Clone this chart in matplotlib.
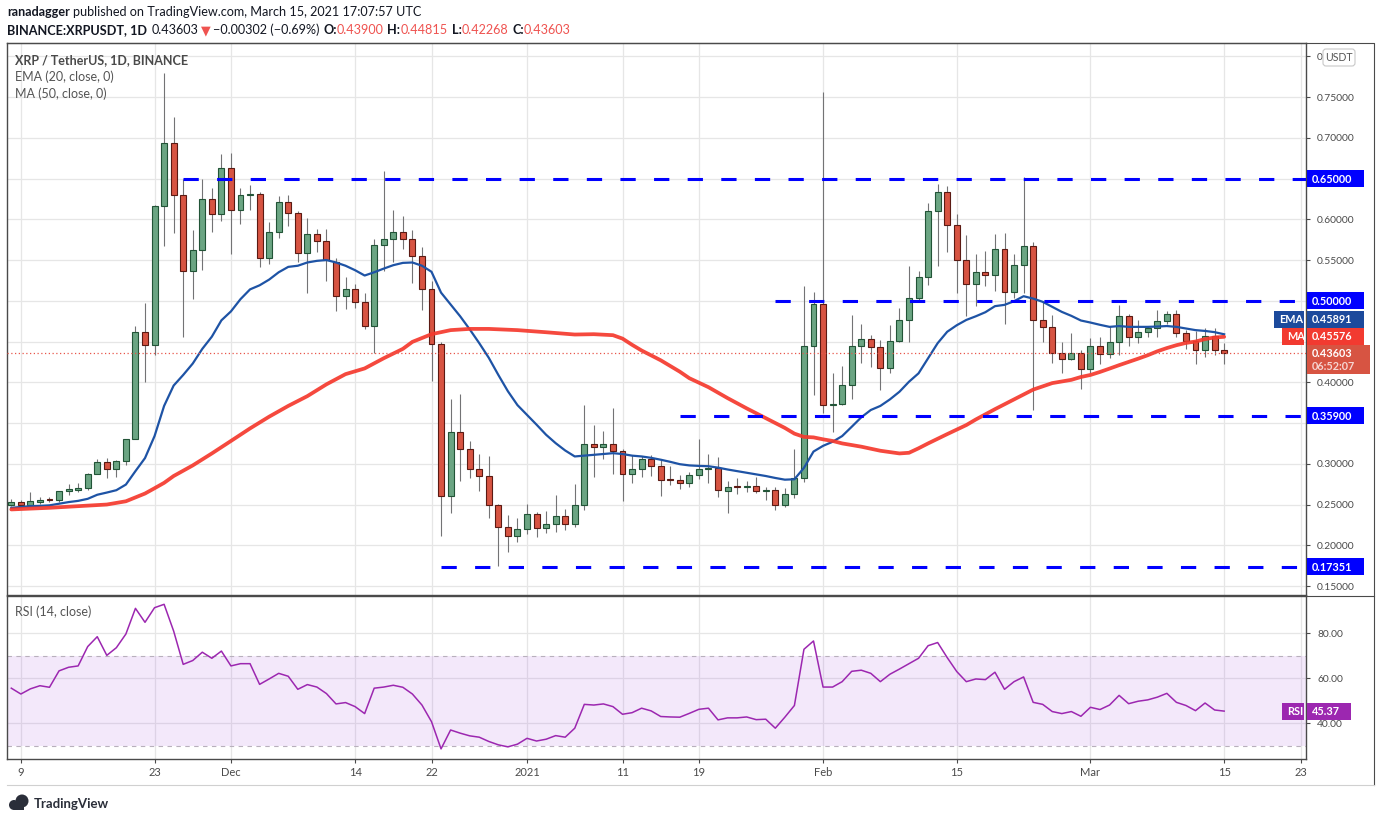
import matplotlib
matplotlib.use('Agg')
import matplotlib.pyplot as plt
import matplotlib.dates as mdates
from matplotlib.patches import Rectangle, FancyBboxPatch, Circle
import numpy as np
import pandas as pd

plt.rcParams['font.family'] = ['Lato', 'DejaVu Sans']

# XRP/USDT daily candles, Nov 8 2020 .. Mar 15 2021
dates = pd.date_range('2020-11-08', '2021-03-15', freq='D')

opens = [0.250, 0.253, 0.250, 0.253, 0.256, 0.255, 0.266, 0.268, 0.270, 0.288,
         0.302, 0.293, 0.304, 0.330, 0.462, 0.446, 0.616, 0.694, 0.630, 0.536,
         0.562, 0.625, 0.606, 0.663, 0.611, 0.630, 0.631, 0.553, 0.585, 0.621,
         0.608, 0.559, 0.582, 0.573, 0.548, 0.506, 0.514, 0.498, 0.469, 0.569,
         0.576, 0.584, 0.576, 0.555, 0.515, 0.447, 0.260, 0.339, 0.318, 0.294,
         0.285, 0.249, 0.222, 0.211, 0.220, 0.238, 0.221, 0.226, 0.236, 0.226,
         0.249, 0.324, 0.320, 0.324, 0.316, 0.287, 0.293, 0.306, 0.297, 0.281,
         0.280, 0.277, 0.286, 0.294, 0.295, 0.267, 0.272, 0.271, 0.273, 0.266,
         0.268, 0.249, 0.263, 0.283, 0.444, 0.496, 0.372, 0.373, 0.397, 0.445,
         0.453, 0.443, 0.418, 0.451, 0.476, 0.504, 0.529, 0.610, 0.633, 0.593,
         0.550, 0.520, 0.535, 0.532, 0.564, 0.511, 0.544, 0.567, 0.476, 0.468,
         0.436, 0.428, 0.436, 0.416, 0.445, 0.435, 0.449, 0.481, 0.455, 0.462,
         0.466, 0.475, 0.484, 0.461, 0.451, 0.439, 0.457, 0.439]
highs = [0.257, 0.255, 0.265, 0.259, 0.259, 0.267, 0.275, 0.276, 0.289, 0.306,
         0.307, 0.305, 0.331, 0.469, 0.497, 0.618, 0.780, 0.725, 0.650, 0.587,
         0.650, 0.638, 0.680, 0.681, 0.638, 0.642, 0.634, 0.597, 0.628, 0.630,
         0.610, 0.602, 0.588, 0.588, 0.553, 0.529, 0.520, 0.510, 0.576, 0.659,
         0.611, 0.604, 0.587, 0.566, 0.524, 0.450, 0.379, 0.386, 0.328, 0.312,
         0.310, 0.251, 0.237, 0.233, 0.251, 0.241, 0.242, 0.262, 0.244, 0.275,
         0.372, 0.348, 0.340, 0.368, 0.318, 0.311, 0.310, 0.311, 0.306, 0.297,
         0.286, 0.290, 0.330, 0.312, 0.308, 0.279, 0.283, 0.279, 0.284, 0.272,
         0.272, 0.270, 0.318, 0.518, 0.511, 0.756, 0.411, 0.420, 0.483, 0.472,
         0.458, 0.452, 0.470, 0.491, 0.543, 0.537, 0.620, 0.643, 0.641, 0.606,
         0.581, 0.558, 0.561, 0.582, 0.583, 0.558, 0.652, 0.572, 0.499, 0.482,
         0.450, 0.460, 0.439, 0.454, 0.455, 0.469, 0.495, 0.484, 0.477, 0.469,
         0.489, 0.487, 0.489, 0.464, 0.463, 0.466, 0.466, 0.448]
lows = [0.248, 0.248, 0.248, 0.251, 0.253, 0.253, 0.262, 0.265, 0.268, 0.287,
        0.282, 0.284, 0.298, 0.330, 0.400, 0.433, 0.567, 0.583, 0.456, 0.502,
        0.538, 0.584, 0.598, 0.557, 0.594, 0.612, 0.542, 0.545, 0.577, 0.592,
        0.548, 0.509, 0.560, 0.524, 0.487, 0.490, 0.491, 0.465, 0.436, 0.536,
        0.548, 0.564, 0.522, 0.489, 0.402, 0.212, 0.240, 0.279, 0.283, 0.266,
        0.234, 0.174, 0.192, 0.204, 0.214, 0.210, 0.215, 0.216, 0.219, 0.222,
        0.243, 0.284, 0.306, 0.287, 0.254, 0.277, 0.284, 0.285, 0.260, 0.274,
        0.269, 0.272, 0.281, 0.276, 0.259, 0.240, 0.263, 0.265, 0.264, 0.256,
        0.243, 0.247, 0.258, 0.278, 0.384, 0.362, 0.339, 0.372, 0.379, 0.424,
        0.419, 0.390, 0.412, 0.449, 0.450, 0.498, 0.519, 0.543, 0.560, 0.509,
        0.481, 0.493, 0.518, 0.512, 0.472, 0.504, 0.510, 0.366, 0.450, 0.424,
        0.411, 0.427, 0.392, 0.411, 0.422, 0.430, 0.434, 0.445, 0.448, 0.456,
        0.455, 0.471, 0.455, 0.441, 0.422, 0.431, 0.434, 0.4227]
closes = [0.253, 0.250, 0.254, 0.256, 0.255, 0.266, 0.269, 0.270, 0.288, 0.302,
          0.293, 0.304, 0.330, 0.462, 0.446, 0.616, 0.694, 0.630, 0.536, 0.562,
          0.625, 0.606, 0.663, 0.611, 0.630, 0.631, 0.553, 0.585, 0.621, 0.608,
          0.559, 0.582, 0.573, 0.550, 0.506, 0.514, 0.498, 0.469, 0.569, 0.576,
          0.584, 0.576, 0.555, 0.514, 0.447, 0.260, 0.339, 0.318, 0.294, 0.285,
          0.249, 0.222, 0.211, 0.220, 0.238, 0.221, 0.226, 0.236, 0.226, 0.249,
          0.324, 0.320, 0.324, 0.316, 0.287, 0.293, 0.306, 0.297, 0.280, 0.280,
          0.277, 0.286, 0.294, 0.295, 0.268, 0.272, 0.271, 0.273, 0.266, 0.268,
          0.249, 0.263, 0.283, 0.444, 0.496, 0.372, 0.373, 0.397, 0.445, 0.453,
          0.443, 0.418, 0.451, 0.476, 0.504, 0.529, 0.610, 0.633, 0.593, 0.550,
          0.520, 0.535, 0.532, 0.564, 0.511, 0.544, 0.567, 0.476, 0.468, 0.436,
          0.428, 0.436, 0.416, 0.445, 0.435, 0.449, 0.481, 0.455, 0.462, 0.466,
          0.475, 0.484, 0.461, 0.451, 0.439, 0.457, 0.439, 0.436]

# EMA(20) as drawn, one value per day
ema20 = [0.246, 0.247, 0.248, 0.2484, 0.249, 0.251, 0.253, 0.2545, 0.257, 0.262,
         0.2647, 0.2676, 0.2745, 0.291, 0.307, 0.334, 0.371, 0.396, 0.409, 0.423,
         0.441, 0.456, 0.476, 0.487, 0.502, 0.514, 0.519, 0.526, 0.535, 0.5416,
         0.543, 0.547, 0.549, 0.550, 0.547, 0.543, 0.5375, 0.531, 0.535, 0.5395,
         0.5437, 0.5465, 0.547, 0.543, 0.5356, 0.510, 0.4955, 0.481, 0.465, 0.448,
         0.430, 0.409, 0.389, 0.372, 0.360, 0.348, 0.3356, 0.3253, 0.3163, 0.309,
         0.310, 0.311, 0.312, 0.313, 0.312, 0.310, 0.309, 0.3073, 0.305, 0.3024,
         0.2995, 0.298, 0.2974, 0.297, 0.2953, 0.293, 0.291, 0.289, 0.287, 0.285,
         0.2826, 0.2805, 0.281, 0.295, 0.315, 0.322, 0.327, 0.334, 0.3454, 0.357,
         0.366, 0.371, 0.379, 0.3884, 0.4007, 0.411, 0.4294, 0.448, 0.462, 0.470,
         0.4765, 0.481, 0.486, 0.4934, 0.495, 0.4995, 0.5056, 0.5027, 0.4987, 0.4925,
         0.4864, 0.4815, 0.4758, 0.4733, 0.4705, 0.468, 0.469, 0.468, 0.468, 0.468,
         0.4684, 0.469, 0.468, 0.466, 0.464, 0.463, 0.4615, 0.4589]

# MA(50) read at these day offsets from the first candle
ma_day = [0, 4, 7, 10, 12, 14, 15, 16, 17, 19, 21, 23, 25, 27, 29, 31, 33, 35, 37, 39,
          41, 42, 44, 46, 48, 50, 53, 56, 59, 61, 63, 64, 65, 66, 67, 68, 69, 70, 71, 73,
          75, 77, 79, 80, 81, 82, 83, 84, 85, 86, 87, 89, 91, 93, 94, 95, 96, 98, 100, 101,
          103, 105, 107, 109, 111, 112, 113, 114, 115, 116, 117, 118, 119, 120, 121, 122,
          123, 124, 125, 126, 127]
ma50 = [0.244, 0.246, 0.248, 0.250, 0.254, 0.2635, 0.270, 0.2766, 0.285, 0.298,
        0.3127, 0.328, 0.3434, 0.3578, 0.371, 0.383, 0.3975, 0.410, 0.417, 0.4295,
        0.441, 0.4496, 0.459, 0.464, 0.4655, 0.4655, 0.464, 0.4614, 0.4586, 0.459,
        0.4578, 0.4536, 0.446, 0.439, 0.433, 0.427, 0.420, 0.413, 0.405, 0.394,
        0.3806, 0.368, 0.356, 0.350, 0.344, 0.337, 0.333, 0.3324, 0.330, 0.328,
        0.325, 0.321, 0.316, 0.3127, 0.3135, 0.319, 0.325, 0.3364, 0.3475, 0.3544,
        0.367, 0.379, 0.391, 0.399, 0.403, 0.4065, 0.409, 0.4127, 0.4168, 0.421,
        0.425, 0.429, 0.4332, 0.438, 0.442, 0.4455, 0.4483, 0.450, 0.453, 0.455,
        0.4558]

# RSI(14), one value per day
rsi14 = [55.6, 53.0, 55.3, 56.7, 56.0, 63.3, 64.9, 65.5, 74.1, 78.5,
         70.2, 73.6, 79.7, 91.1, 84.9, 91.4, 92.9, 81.0, 66.2, 67.9,
         71.6, 68.9, 72.1, 65.5, 66.5, 66.5, 57.3, 59.7, 62.2, 60.9,
         55.1, 57.2, 56.1, 53.2, 48.6, 49.2, 47.4, 44.3, 55.6, 56.1,
         56.9, 56.0, 53.0, 48.1, 40.7, 28.6, 37.0, 35.6, 34.4, 33.8,
         31.9, 30.4, 29.5, 30.7, 33.3, 32.1, 32.9, 34.5, 33.8, 37.8,
         48.4, 48.1, 48.6, 47.4, 44.0, 44.7, 46.7, 45.5, 43.0, 42.8,
         42.7, 44.4, 46.2, 46.7, 41.5, 42.4, 42.4, 42.8, 41.6, 41.8,
         37.8, 42.7, 47.9, 72.9, 76.6, 56.1, 56.1, 58.5, 63.1, 63.6,
         62.2, 58.5, 61.8, 64.1, 66.5, 68.9, 74.5, 75.9, 69.2, 63.0,
         58.5, 59.7, 59.4, 62.7, 55.1, 58.5, 60.6, 49.3, 48.4, 45.2,
         44.3, 45.2, 43.1, 47.1, 46.1, 48.1, 52.4, 48.7, 49.8, 50.4,
         51.6, 53.3, 49.3, 47.9, 45.6, 49.0, 45.9, 45.4]

# horizontal levels drawn by the author
levels = [0.65, 0.50, 0.359, 0.17351]
level_start = ['2020-11-26', '2021-01-27', '2021-01-17', '2020-12-23']
level_labels = ['0.65000', '0.50000', '0.35900', '0.17351']

# price scale; labels hidden behind the coloured boxes are left empty
price_ticks = [0.15, 0.20, 0.25, 0.30, 0.35, 0.40, 0.45, 0.50, 0.55, 0.60, 0.65, 0.70, 0.75, 0.80]
price_tick_labels = ['0.15000', '0.20000', '0.25000', '0.30000', '', '0.40000', '',
                     '', '0.55000', '0.60000', '', '0.70000', '0.75000', '0']

tick_dates = ['2020-11-09', '2020-11-23', '2020-12-01', '2020-12-14', '2020-12-22',
              '2021-01-01', '2021-01-11', '2021-01-19', '2021-02-01', '2021-02-15',
              '2021-03-01', '2021-03-15', '2021-03-23']
tick_labels = ['9', '23', 'Dec', '14', '22', '2021', '11', '19', 'Feb', '15', 'Mar', '15', '23']

last_price = 0.43603
W, H = 1376, 823
GREEN, GREEN_E = '#6ba583', '#225437'
RED, RED_E = '#d75442', '#5b1a13'
FRAME = '#4a4a4a'
TXT = '#4a4a4a'

x = mdates.date2num(dates)
o, h, l, c = map(np.array, (opens, highs, lows, closes))
up = c >= o

fig = plt.figure(figsize=(W / 100, H / 100), dpi=100)


def fig_rect(x0, y0, x1, y1):
    return [x0 / W, 1 - y1 / H, (x1 - x0) / W, (y1 - y0) / H]


ax = fig.add_axes(fig_rect(7, 43, 1306, 595))
ax_rsi = fig.add_axes(fig_rect(7, 596, 1306, 759), sharex=ax)

xmin, xmax = x[0] - 0.45, x[0] + 135.57
ax.set_xlim(xmin, xmax)
ax.set_ylim(0.139, 0.8163)
ax_rsi.set_ylim(24.1, 96.6)

# candles
ax.vlines(x, l, h, color='#737375', lw=0.8, zorder=2)
body_lo = np.minimum(o, c)
body_h = np.maximum(np.abs(c - o), 0.0012)
ax.bar(x[up], body_h[up], bottom=body_lo[up], width=0.62, color=GREEN,
       edgecolor=GREEN_E, linewidth=0.8, zorder=3)
ax.bar(x[~up], body_h[~up], bottom=body_lo[~up], width=0.62, color=RED,
       edgecolor=RED_E, linewidth=0.8, zorder=3)

# moving averages
ax.plot(x, ema20, color='#1e53a5', lw=1.6, zorder=4)
ax.plot(x[ma_day], ma50, color='#f5392d', lw=2.7, alpha=0.92, zorder=4,
        solid_capstyle='round', solid_joinstyle='round')

# support / resistance lines
for lv, st in zip(levels, level_start):
    ax.plot([mdates.date2num(pd.Timestamp(st)), xmax], [lv, lv], color='#0000ff',
            lw=2.2, ls=(0, (5, 6)), zorder=5, dash_capstyle='butt')

ax.axhline(last_price, color='#e8564b', lw=0.9, ls=(0, (1, 2)), zorder=5)

# grid + axes
tick_x = mdates.date2num(pd.to_datetime(tick_dates))
for a in (ax, ax_rsi):
    a.set_xticks(tick_x)
    a.grid(True, color='#e6e6e6', lw=0.9, zorder=0)
    a.set_axisbelow(True)
    for sp in a.spines.values():
        sp.set_color(FRAME)
        sp.set_linewidth(1.0)
    a.yaxis.tick_right()
    a.tick_params(axis='y', length=3, color=TXT, labelcolor=TXT, labelsize=7.4, pad=5)

ax.set_yticks(price_ticks)
ax.set_yticklabels(price_tick_labels)
ax.tick_params(axis='x', length=0, labelbottom=False)

ax_rsi.set_xticklabels(tick_labels)
ax_rsi.tick_params(axis='x', length=3, color=TXT, labelcolor=TXT, labelsize=8, pad=3)
ax_rsi.set_yticks([40, 60, 80])
ax_rsi.set_yticklabels(['40.00', '60.00', '80.00'])

# RSI pane
ax_rsi.axhspan(30, 70, color='#a34fe0', alpha=0.13, lw=0, zorder=1)
for lv in (30, 70):
    ax_rsi.axhline(lv, color='#b8b0bc', lw=0.8, ls=(0, (4, 4)), zorder=2)
ax_rsi.plot(x, rsi14, color='#9c27b0', lw=1.1, zorder=3)

# overlay in pixel coordinates for frame, labels and header
ov = fig.add_axes([0, 0, 1, 1], zorder=10)
ov.set_xlim(0, W)
ov.set_ylim(H, 0)
ov.axis('off')
ov.patch.set_alpha(0)
renderer = fig.canvas.get_renderer()

ov.plot([7, 1374, 1374], [43, 43, 785], color=FRAME, lw=0.8)
ov.plot([1306, 1374], [595.5, 595.5], color=FRAME, lw=0.8)
ov.plot([7, 1374], [785, 785], color='#d0d0d0', lw=0.8)


def ypix(a, v):
    return H - a.transData.transform((x[0], v))[1]


def axis_box(y, text, fc, w=57, h=17, x0=1307, size=7.8, tc='white'):
    ov.add_patch(Rectangle((x0, y - h / 2), w, h, fc=fc, ec='none', zorder=3))
    ov.text(x0 + 5, y + 0.5, text, color=tc, fontsize=size, fontweight='bold',
            va='center', ha='left', zorder=4)


for lv, lab in zip(levels, level_labels):
    axis_box(ypix(ax, lv), lab, '#0000ff')

# last price box with countdown, EMA / MA boxes stacked above it
y_last = ypix(ax, last_price)
ov.add_patch(Rectangle((1307, y_last - 8), 63, 29, fc='#d75442', ec='none', zorder=3))
ov.text(1312, y_last + 0.5, '0.43603', color='white', fontsize=7.8, fontweight='bold',
        va='center', ha='left', zorder=4)
ov.text(1312, y_last + 14, '06:52:07', color='#f6d5d1', fontsize=7.8, fontweight='bold',
        va='center', ha='left', zorder=4)

y_ma = y_last - 16.5
y_ema = y_ma - 17
axis_box(y_ema, '0.45891', '#1c4a9c')
axis_box(y_ema, 'EMA', '#1c4a9c', w=30, x0=1274)
axis_box(y_ma, '0.45576', '#f23a30')
axis_box(y_ma, 'MA', '#f23a30', w=22, x0=1282)

y_rsi = ypix(ax_rsi, rsi14[-1])
axis_box(y_rsi, '45.37', '#9c27b0', w=44)
axis_box(y_rsi, 'RSI', '#9c27b0', w=22, x0=1282)

ov.add_patch(FancyBboxPatch((1323, 49), 32, 17, boxstyle='round,pad=0,rounding_size=3',
                            fc='white', ec='#c8c8c8', lw=0.8, zorder=3))
ov.text(1339, 57.5, 'USDT', color='#555555', fontsize=7.6, va='center', ha='center', zorder=4)

# legends inside panes
ov.text(15, 60, 'XRP / TetherUS, 1D, BINANCE', color=TXT, fontsize=9.0,
        fontweight='bold', va='center')
ov.text(15, 77, 'EMA (20, close, 0)', color='#555555', fontsize=9.0, va='center')
ov.text(15, 94, 'MA (50, close, 0)', color='#555555', fontsize=9.0, va='center')
ov.text(15, 612, 'RSI (14, close)', color='#555555', fontsize=9.0, va='center')


def put_parts(x0, y, parts, size=9.1):
    for s, col, wt, gap in parts:
        t = ov.text(x0, y, s, color=col, fontsize=size, fontweight=wt, va='center')
        x0 += t.get_window_extent(renderer).width + gap


DARK, HRED = '#131722', '#ef5350'
put_parts(7, 12, [('ranadagger', DARK, 'bold', 3.5),
                  ('published on TradingView.com, March 15, 2021 17:07:57 UTC', DARK, 'normal', 0)])
put_parts(7, 30, [('BINANCE:XRPUSDT, 1D', DARK, 'bold', 5),
                  ('0.43603', DARK, 'normal', 2),
                  ('\u25bc', HRED, 'normal', 2),
                  ('\u22120.00302 (\u22120.69%)', DARK, 'normal', 4),
                  ('O:', DARK, 'bold', 0), ('0.43900', HRED, 'normal', 4),
                  ('H:', DARK, 'bold', 0), ('0.44815', HRED, 'normal', 4),
                  ('L:', DARK, 'bold', 0), ('0.42268', HRED, 'normal', 4),
                  ('C:', DARK, 'bold', 0), ('0.43603', HRED, 'normal', 0)])

# TradingView mark
ov.add_patch(Circle((14, 805), 5, fc='#2a2e39', ec='none'))
ov.add_patch(Circle((22, 801), 6.5, fc='#2a2e39', ec='none'))
ov.add_patch(Rectangle((14, 803), 10, 7, fc='#2a2e39', ec='none'))
ov.text(34, 804, 'TradingView', color='#2a2e39', fontsize=9.5, fontweight='bold', va='center')

fig.savefig('out.png', dpi=100)
